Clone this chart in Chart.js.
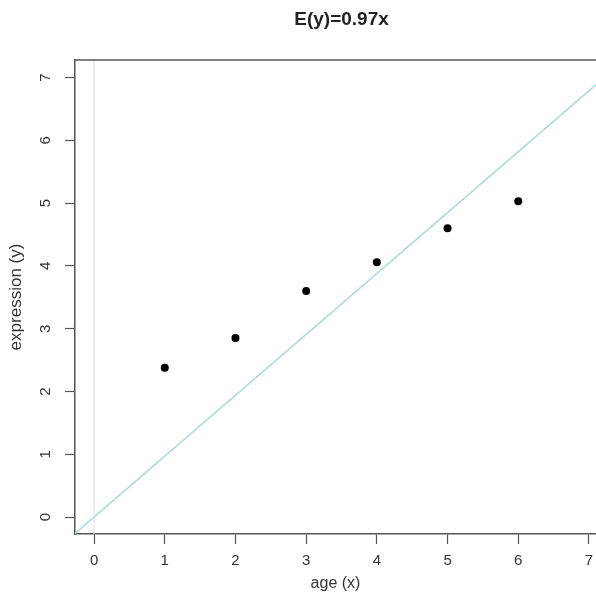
<!DOCTYPE html>
<html>
<head>
<meta charset="utf-8">
<script src="https://cdn.jsdelivr.net/npm/chart.js@4"></script>
<style>
  html, body { margin: 0; padding: 0; background: #fff; }
  #wrap { width: 596px; height: 596px; }
</style>
</head>
<body>
<div id="wrap"><canvas id="chart"></canvas></div>
<script>
// data
const ages = [1, 2, 3, 4, 5, 6];
const expression = [2.38, 2.85, 3.6, 4.06, 4.6, 5.03];
const slope = 0.97;
const xTicks = [0, 1, 2, 3, 4, 5, 6, 7];
const yTicks = [0, 1, 2, 3, 4, 5, 6, 7];
const titleText = 'E(y)=0.97x';

const points = ages.map((a, i) => ({ x: a, y: expression[i] }));
const fitLine = [-0.5, 7.5].map(x => ({ x: x, y: slope * x }));
const zeroLine = [{ x: 0, y: -1 }, { x: 0, y: 8 }];

const boxColor = '#555';
const font = '"Liberation Sans", Arial, sans-serif';

// box top, rotated y labels and the title, drawn through the scales
const rPlot = {
    id: 'rPlot',
    afterDraw(chart) {
        const ctx = chart.ctx;
        const area = chart.chartArea;
        const xs = chart.scales.x;
        const ys = chart.scales.y;
        ctx.save();
        ctx.strokeStyle = boxColor;
        ctx.lineWidth = 1.5;
        ctx.beginPath();
        ctx.moveTo(area.left, area.top);
        ctx.lineTo(area.right + 2, area.top);
        ctx.stroke();

        ctx.fillStyle = '#333';
        ctx.font = '15px ' + font;
        ctx.textAlign = 'center';
        ctx.textBaseline = 'middle';
        yTicks.forEach(v => {
            ctx.save();
            ctx.translate(46, ys.getPixelForValue(v));
            ctx.rotate(-Math.PI / 2);
            ctx.fillText(String(v), 0, 0);
            ctx.restore();
        });

        ctx.fillStyle = '#222';
        ctx.font = 'bold 19px ' + font;
        ctx.fillText(titleText, xs.getPixelForValue(3.5), 20);
        ctx.restore();
    }
};

const ctx = document.getElementById('chart').getContext('2d');
new Chart(ctx, {
    type: 'scatter',
    data: {
        datasets: [
            {
                data: zeroLine,
                showLine: true,
                borderColor: '#dcdcdc',
                borderWidth: 1,
                pointRadius: 0,
                order: 3
            },
            {
                data: fitLine,
                showLine: true,
                borderColor: '#a9d6e2',
                borderWidth: 1.5,
                pointRadius: 0,
                order: 2
            },
            {
                data: points,
                pointRadius: 4,
                pointBackgroundColor: '#000',
                pointBorderWidth: 0,
                order: 1
            }
        ]
    },
    plugins: [rPlot],
    options: {
        responsive: true,
        maintainAspectRatio: false,
        animation: false,
        layout: { autoPadding: false, padding: { top: 60, right: 0, bottom: 0, left: 0 } },
        plugins: {
            legend: { display: false },
            title: { display: false },
            tooltip: { enabled: false }
        },
        scales: {
            x: {
                type: 'linear',
                min: -0.27,
                max: 7.1,
                afterFit: s => { s.height = 62; s.paddingLeft = 0; s.paddingRight = 0; },
                afterBuildTicks: s => { s.ticks = xTicks.map(v => ({ value: v })); },
                border: { display: true, color: boxColor, width: 1.5 },
                grid: { display: true, drawOnChartArea: false, drawTicks: true, tickLength: 10, tickColor: boxColor, tickWidth: 1.2 },
                ticks: {
                    color: '#333',
                    padding: 8,
                    maxRotation: 0,
                    font: { family: font, size: 15 }
                },
                title: {
                    display: true,
                    text: 'age (x)',
                    color: '#333',
                    padding: { top: 0, bottom: 3 },
                    font: { family: font, size: 16 }
                }
            },
            y: {
                type: 'linear',
                min: -0.27,
                max: 7.28,
                afterFit: s => { s.width = 75; s.paddingTop = 0; s.paddingBottom = 0; },
                afterBuildTicks: s => { s.ticks = yTicks.map(v => ({ value: v })); },
                border: { display: true, color: boxColor, width: 1.5 },
                grid: { display: true, drawOnChartArea: false, drawTicks: true, tickLength: 10, tickColor: boxColor, tickWidth: 1.2 },
                ticks: { display: false },
                title: {
                    display: true,
                    text: 'expression (y)',
                    color: '#333',
                    padding: { top: 6, bottom: 0 },
                    font: { family: font, size: 17 }
                }
            }
        }
    }
});
</script>
</body>
</html>
